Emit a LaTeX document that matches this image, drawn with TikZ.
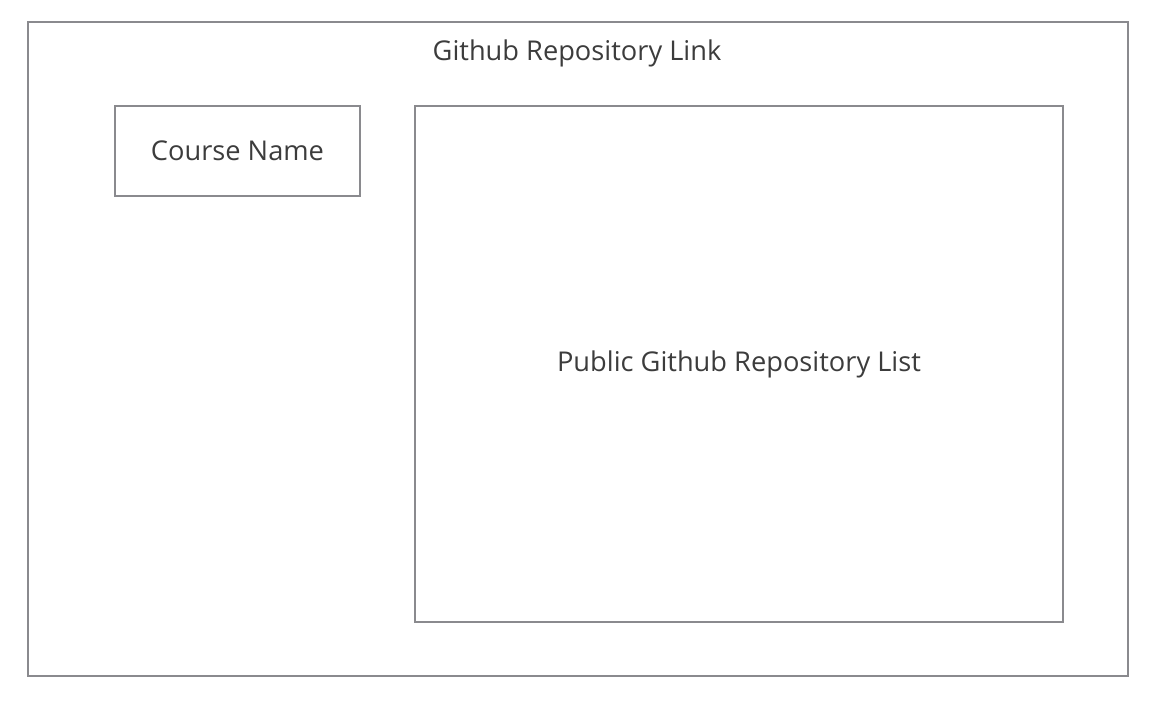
\documentclass[tikz,border=0pt]{standalone}
\usepackage{fontspec}
\setmainfont{Open Sans}
\usetikzlibrary{positioning}
\definecolor{boxgray}{HTML}{8A8A8E}
\definecolor{textgray}{HTML}{3C3C3C}
\tikzstyle{panel}=[draw=boxgray,line width=1.1pt,rectangle,inner sep=0pt]
\tikzstyle{label}=[text=textgray,font=\fontsize{15.5}{18}\selectfont]

\begin{document}
\begin{tikzpicture}[x=0.02cm,y=-0.02cm]
    \useasboundingbox (0,0) rectangle (1158,700);

    \node (page)[panel,minimum width=22cm,minimum height=13.08cm] at (578,349) {};
    \node[label] (link) at (577,53) {Github Repository Link};

    \node (course)[panel,label,minimum width=4.9cm,minimum height=1.8cm] at (237.5,151) {Course Name};
    \node (repos)[panel,label,minimum width=12.96cm,minimum height=10.32cm] at (739,364) {Public Github Repository List};

\end{tikzpicture}
\end{document}
